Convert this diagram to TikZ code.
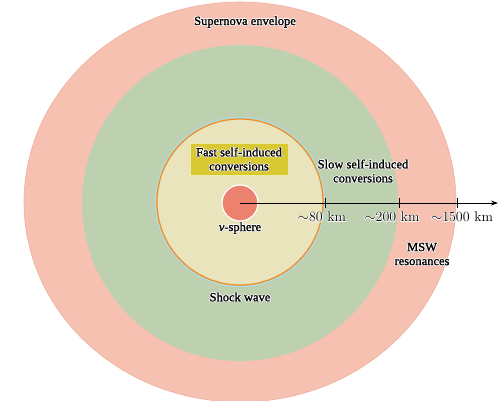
\documentclass[tikz,border=0pt]{standalone}
\usepackage{fontspec}
\setmainfont{Liberation Serif}
\newfontfamily\lmfont{Latin Modern Roman}
\usetikzlibrary{arrows.meta}
\definecolor{envpink}{RGB}{247,193,178}
\definecolor{envedge}{RGB}{241,175,158}
\definecolor{slowgreen}{RGB}{189,208,176}
\definecolor{fastyellow}{RGB}{233,228,187}
\definecolor{shockorange}{RGB}{242,140,40}
\definecolor{shockblue}{RGB}{175,222,232}
\definecolor{nured}{RGB}{236,130,110}
\definecolor{boxolive}{RGB}{216,200,50}
\definecolor{boxedge}{RGB}{238,234,172}
\tikzset{
  lbl/.style={font=\addfontfeature{FakeBold=1.5}\fontsize{12.5}{14}\selectfont, align=center, inner sep=0pt, text=black},
  kmlbl/.style={font=\lmfont\fontsize{14}{16}\selectfont, align=center, inner sep=0pt, text=black},
  tickmark/.style={line width=0.9pt, black},
  axisline/.style={line width=0.9pt, black, -{Stealth[length=7pt,width=5pt]}},
}
\newcommand\haloed[4]{%
  \foreach \hx/\hy in {0.7/0,-0.7/0,0/0.7,0/-0.7,0.5/0.5,-0.5/0.5,0.5/-0.5,-0.5/-0.5}{%
    \node[#3,text=white] at ([shift={(\hx,\hy)}]#2) {#4};}%
  \node[#3] (#1) at (#2) {#4};}
\begin{document}
\begin{tikzpicture}[x=1pt,y=-1pt]
\useasboundingbox (0,0) rectangle (500,400);
% regions
\fill[envpink, draw=envedge, line width=0.6pt] (240,202) ellipse [x radius=216, y radius=200];
\fill[slowgreen] (240,203) circle [radius=158];
\draw[shockblue, line width=0.8pt] (240,202) circle [radius=84.6];
\fill[fastyellow, draw=shockorange, line width=1.2pt] (240,202) circle [radius=83];
% fast box
\node[fill=boxolive, draw=boxedge, line width=1pt, minimum width=98pt, minimum height=32pt, inner sep=0pt] (fastbox) at (239,159) {};
% nu-sphere
\fill[nured, draw=white, line width=1.2pt] (240,203) circle [radius=18];
% axis
\coordinate (nuc) at (240,203);
\coordinate (axisend) at (498,203);
\draw[axisline] (nuc) -- (axisend);
\coordinate (t80) at (325,203);
\coordinate (t200) at (399,203);
\coordinate (t1500) at (457,203);
\foreach \t in {t80,t200,t1500}{\draw[tickmark] ([yshift=5pt]\t) -- ([yshift=-5pt]\t);}
% labels
\haloed{envlbl}{245,22}{lbl}{Supernova envelope}
\haloed{fastlbl}{239,159}{lbl}{Fast self-induced\\conversions}
\haloed{slowlbl}{363,171}{lbl}{Slow self-induced\\conversions}
\haloed{nulbl}{240,228}{lbl}{{\itshape ν}-sphere}
\haloed{shocklbl}{240,297}{lbl}{Shock wave}
\haloed{mswlbl}{422,254}{lbl}{MSW\\resonances}
\haloed{km80}{322,217}{kmlbl}{$\sim$80 km}
\haloed{km200}{392,217}{kmlbl}{$\sim$200 km}
\haloed{km1500}{462,217}{kmlbl}{$\sim$1500 km}
\end{tikzpicture}
\end{document}
